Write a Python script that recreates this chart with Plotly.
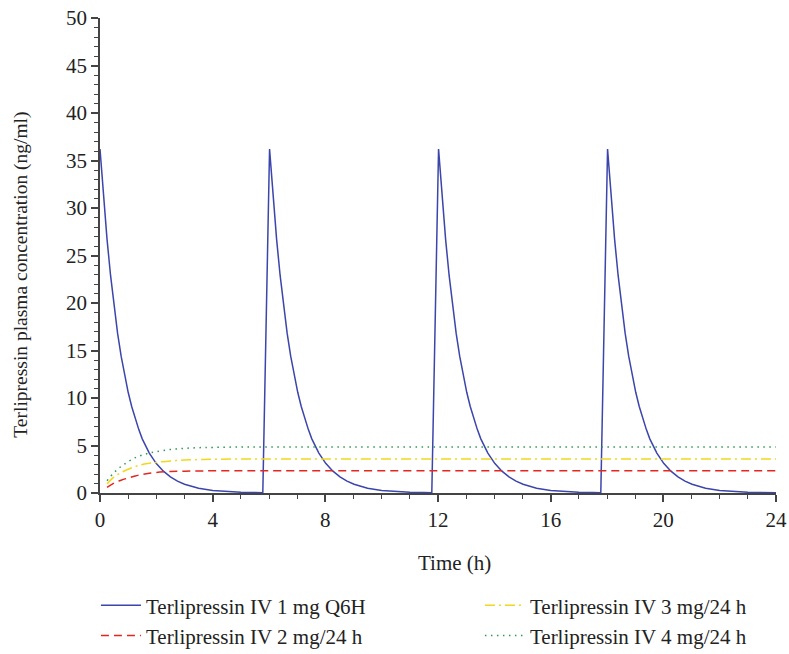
import plotly.graph_objects as go

# Blue: Terlipressin IV 1 mg Q6H (bolus every 6 h)
blue_t = [0.0, 0.125, 0.25, 0.375, 0.5, 0.625, 0.75, 0.875, 1.0, 1.125, 1.25, 1.375, 1.5, 1.75, 2.0, 2.25, 2.5, 2.75, 3.0, 3.5, 4.0, 4.5, 5.0, 5.5, 5.78,
          6.02, 6.145, 6.27, 6.395, 6.52, 6.645, 6.77, 6.895, 7.02, 7.145, 7.27, 7.395, 7.52, 7.77, 8.02, 8.27, 8.52, 8.77, 9.02, 9.5, 10.0, 10.5, 11.0, 11.5, 11.78,
          12.02, 12.145, 12.27, 12.395, 12.52, 12.645, 12.77, 12.895, 13.02, 13.145, 13.27, 13.395, 13.52, 13.77, 14.02, 14.27, 14.52, 14.77, 15.02, 15.5, 16.0, 16.5, 17.0, 17.5, 17.78,
          18.02, 18.145, 18.27, 18.395, 18.52, 18.645, 18.77, 18.895, 19.02, 19.145, 19.27, 19.395, 19.52, 19.77, 20.02, 20.27, 20.52, 20.77, 21.02, 21.5, 22.0, 22.5, 23.0, 23.5, 24.0]
blue_c = [36.2, 31.0, 26.7, 22.9, 19.6, 16.8, 14.4, 12.4, 10.6, 9.1, 7.8, 6.7, 5.7, 4.2, 3.1, 2.3, 1.7, 1.25, 0.92, 0.5, 0.27, 0.15, 0.08, 0.04, 0.03,
          36.2, 31.0, 26.7, 22.9, 19.6, 16.8, 14.4, 12.4, 10.6, 9.1, 7.8, 6.7, 5.7, 4.2, 3.1, 2.3, 1.7, 1.25, 0.92, 0.5, 0.27, 0.15, 0.08, 0.04, 0.03,
          36.2, 31.0, 26.7, 22.9, 19.6, 16.8, 14.4, 12.4, 10.6, 9.1, 7.8, 6.7, 5.7, 4.2, 3.1, 2.3, 1.7, 1.25, 0.92, 0.5, 0.27, 0.15, 0.08, 0.04, 0.03,
          36.2, 31.0, 26.7, 22.9, 19.6, 16.8, 14.4, 12.4, 10.6, 9.1, 7.8, 6.7, 5.7, 4.2, 3.1, 2.3, 1.7, 1.25, 0.92, 0.5, 0.27, 0.15, 0.08, 0.04, 0.03]

# Continuous infusions
red_t = [0.25, 0.5, 0.75, 1.0, 1.25, 1.5, 1.75, 2.0, 2.5, 3.0, 3.5, 4.0, 5.0, 6.0, 8.0, 12.0, 16.0, 20.0, 24.0]
red_c = [0.6, 1.05, 1.35, 1.58, 1.8, 1.96, 2.08, 2.17, 2.26, 2.3, 2.32, 2.34, 2.35, 2.35, 2.35, 2.35, 2.35, 2.35, 2.35]

yellow_t = [0.25, 0.5, 0.75, 1.0, 1.25, 1.5, 1.75, 2.0, 2.5, 3.0, 3.5, 4.0, 5.0, 6.0, 8.0, 12.0, 16.0, 20.0, 24.0]
yellow_c = [0.95, 1.7, 2.15, 2.5, 2.78, 3.0, 3.12, 3.22, 3.38, 3.47, 3.52, 3.55, 3.58, 3.58, 3.58, 3.58, 3.58, 3.58, 3.58]

green_t = [0.25, 0.5, 0.75, 1.0, 1.25, 1.5, 1.75, 2.0, 2.5, 3.0, 3.5, 4.0, 5.0, 6.0, 8.0, 12.0, 16.0, 20.0, 24.0]
green_c = [1.3, 2.15, 2.8, 3.3, 3.72, 4.0, 4.2, 4.35, 4.58, 4.7, 4.77, 4.8, 4.84, 4.84, 4.84, 4.84, 4.84, 4.84, 4.84]

names = ["Terlipressin IV 1 mg Q6H", "Terlipressin IV 2 mg/24 h",
         "Terlipressin IV 3 mg/24 h", "Terlipressin IV 4 mg/24 h"]

x_ticks = [0, 4, 8, 12, 16, 20, 24]
y_ticks = [0, 5, 10, 15, 20, 25, 30, 35, 40, 45, 50]

FONT = "Liberation Serif"
TXT = "#222222"
AX = "#444444"

fig = go.Figure()
fig.add_trace(go.Scatter(x=blue_t, y=blue_c, mode="lines", name=names[0],
                         line=dict(color="#3b45ac", width=1.5)))
fig.add_trace(go.Scatter(x=yellow_t, y=yellow_c, mode="lines", name=names[2], line_shape="spline",
                         line=dict(color="#f2d81c", width=1.5, dash="10px,4px,2px,4px")))
fig.add_trace(go.Scatter(x=red_t, y=red_c, mode="lines", name=names[1], line_shape="spline",
                         line=dict(color="#e3261f", width=1.5, dash="8px,5px")))
fig.add_trace(go.Scatter(x=green_t, y=green_c, mode="lines", name=names[3], line_shape="spline",
                         line=dict(color="#2e9a52", width=1.5, dash="1.5px,4.5px")))

axis_common = dict(showline=True, linecolor=AX, linewidth=1.5, showgrid=False, zeroline=False,
                   ticks="outside", ticklen=7, tickwidth=1.5, tickcolor=AX, automargin=False,
                   tickfont=dict(family=FONT, size=21, color=TXT))

fig.update_xaxes(range=[0, 24], tickvals=x_ticks, ticktext=[str(v) for v in x_ticks],
                 minor=dict(dtick=1, ticks="outside", ticklen=4, tickwidth=1.2, tickcolor=AX),
                 **axis_common)
fig.update_yaxes(range=[0, 50], tickvals=y_ticks, ticktext=[str(v) for v in y_ticks],
                 minor=dict(dtick=1, ticks="outside", ticklen=4, tickwidth=1.2, tickcolor=AX),
                 **axis_common)

fig.add_annotation(text="Time (h)", xref="paper", yref="paper", x=0.5237, y=-0.147,
                   xanchor="center", yanchor="middle", showarrow=False,
                   font=dict(family=FONT, size=21, color=TXT))
fig.add_annotation(text="Terlipressin plasma concentration (ng/ml)", xref="paper", yref="paper",
                   x=-0.118, y=0.46, xanchor="center", yanchor="middle", textangle=-90, showarrow=False,
                   font=dict(family=FONT, size=19.5, color=TXT))

fig.update_layout(
    width=789, height=654,
    margin=dict(l=100, r=13, t=18, b=161, autoexpand=False),
    plot_bgcolor="white", paper_bgcolor="white",
    showlegend=True,
    legend=dict(orientation="h", x=-0.006, xanchor="left", y=-0.194, yanchor="top",
                entrywidth=329, entrywidthmode="pixels", traceorder="normal",
                font=dict(family=FONT, size=21, color=TXT),
                itemwidth=40, tracegroupgap=0),
)

fig.write_html("out.html", config={"displayModeBar": False},
               post_script="document.body.style.margin='0';document.body.style.overflow='hidden';")
